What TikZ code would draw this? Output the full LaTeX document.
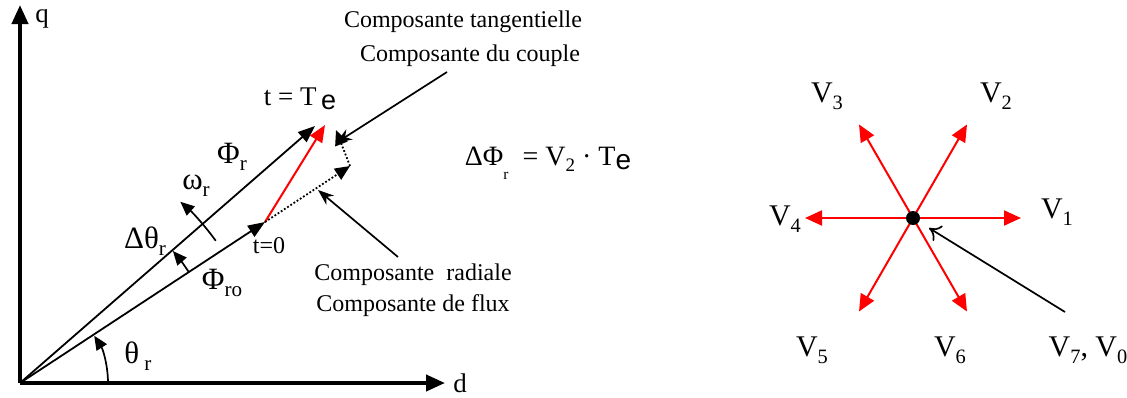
\documentclass[tikz,border=0pt]{standalone}
\usepackage{fontspec}
\setmainfont{Liberation Serif}
\setsansfont{Liberation Sans}
\usetikzlibrary{arrows.meta}
\newcommand\lsub[1]{\raisebox{-0.5ex}{\scalebox{0.68}{#1}}}
\begin{document}
\begin{tikzpicture}[x=1pt,y=-1pt,
  lbl/.style={inner sep=0pt,font=\fontsize{24}{26}\selectfont},
  glbl/.style={inner sep=0pt,font=\fontsize{31}{33}\selectfont},
  vlbl/.style={inner sep=0pt,font=\fontsize{30}{32}\selectfont},
  axis/.style={line width=4pt,-{Triangle[length=19pt,width=16pt]}},
  vec/.style={line width=1.8pt,-{Triangle[length=17pt,width=13pt]}},
  redvec/.style={red,line width=2pt,-{Triangle[length=17pt,width=14pt]}},
  dotvec/.style={dotted,line width=1.8pt,-{Triangle[length=15pt,width=13pt]}},
  pointer/.style={line width=1.7pt,-{Stealth[length=16pt,width=12pt]}},
  openpointer/.style={line width=1.7pt,-{To[length=11pt,width=18pt]}},
  arcarrow/.style={line width=1.7pt,-{Triangle[length=14pt,width=12pt]}}]
\useasboundingbox (0,0) rectangle (1127,397);
% axes
\coordinate (O) at (20,383);
\coordinate (qend) at (20,5);
\coordinate (dend) at (445,383);
\draw[axis] (O) -- (qend);
\draw[axis] (O) -- (dend);
\node[lbl,font=\fontsize{27}{29}\selectfont] (q) at (42,19) {q};
\node[lbl,font=\fontsize{27}{29}\selectfont] (d) at (460,383) {d};
% vectors
\coordinate (Pr) at (315,126);
\coordinate (P0) at (265,222);
\coordinate (T) at (325,125);
\coordinate (R) at (350,166);
\draw[vec] (O) -- (Pr);
\draw[vec] (O) -- (P0);
\draw[redvec] (P0) -- (T);
\draw[dotvec] (P0) -- (R);
\draw[dotvec] (R) -- (336,130);
% arcs
\draw[arcarrow] (O) ++(0:88) arc[start angle=0,end angle=-32.5,radius=88];
\draw[arcarrow] (O) ++(-33.3:202) arc[start angle=-33.3,end angle=-40.8,radius=202];
\draw[arcarrow] (O) ++(-36:242) arc[start angle=-36,end angle=-48.5,radius=242];
% labels left
\node[lbl,font=\fontsize{27}{29}\selectfont] (te) at (300,99) {t = T\,\raisebox{-0.35ex}{\sffamily e}};
\node[glbl] (phir) at (232,157) {Φ\lsub{r}};
\node[glbl] (omr) at (196,186) {ω\lsub{r}};
\node[glbl] (dthr) at (145,241) {Δθ\lsub{r}};
\node[glbl] (phiro) at (222,283) {Φ\lsub{ro}};
\node[lbl] (t0) at (269,246) {t=0};
\node[glbl] (thr) at (138,356) {θ\,\lsub{r}};
\node[lbl] (ct) at (463,22) {Composante tangentielle};
\node[lbl] (cc) at (470,56) {Composante du couple};
\node[lbl] (cr) at (413,275) {Composante\ \ radiale};
\node[lbl] (cf) at (413,306) {Composante de flux};
\coordinate (ctgt) at (336,143);
\coordinate (ctst) at (447,72);
\draw[pointer] (ctst) -- (ctgt);
\coordinate (crst) at (398,257);
\coordinate (crgt) at (318,190);
\draw[pointer] (crst) -- (crgt);
\node[lbl,font=\fontsize{28}{30}\selectfont] (eq) at (548,163) {ΔΦ\raisebox{-1.1ex}{\scalebox{0.55}{r}}\ \ = V\lsub{2} · T\raisebox{-0.3ex}{\sffamily e}};
% right part
\coordinate (C) at (913,218);
\foreach \a/\n in {0/1,60/2,120/3,180/4,240/5,300/6}{
  \draw[red,line width=2pt,-{Triangle[length=17pt,width=15pt]}] (C) -- ++(\a:-108) coordinate (v\n);
}
\fill (C) circle (7);
\node[vlbl] (V1) at (1057,212) {V\lsub{1}};
\node[vlbl] (V2) at (996,96) {V\lsub{2}};
\node[vlbl] (V3) at (827,96) {V\lsub{3}};
\node[vlbl] (V4) at (785,219) {V\lsub{4}};
\node[vlbl] (V5) at (812,350) {V\lsub{5}};
\node[vlbl] (V6) at (950,350) {V\lsub{6}};
\node[vlbl] (V70) at (1088,350) {V\lsub{7}, V\lsub{0}};
\coordinate (pst) at (1065,312);
\draw[openpointer] (pst) -- (929,228);
\end{tikzpicture}
\end{document}
